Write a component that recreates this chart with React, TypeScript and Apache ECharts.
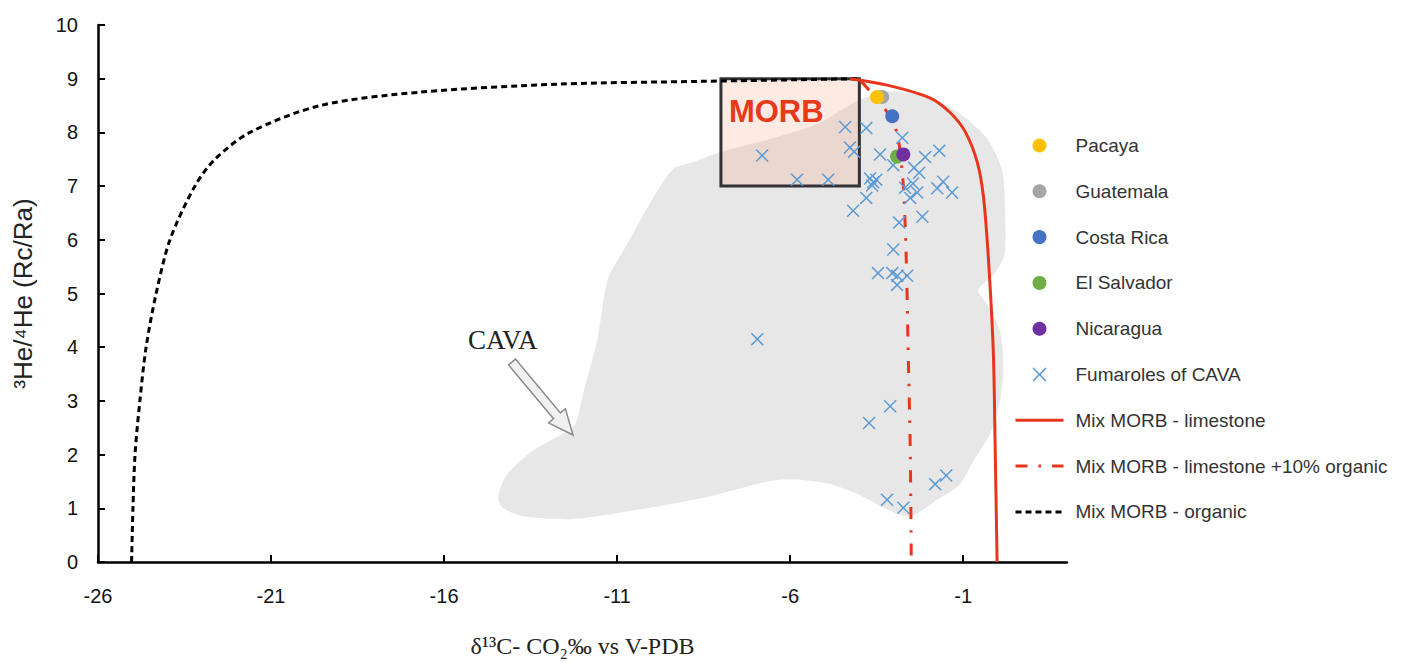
import React, { useEffect, useRef } from 'react';
import * as echarts from 'echarts';

// ---- data (x: δ13C ‰, y: 3He/4He Rc/Ra) ----
const pacaya = [[-3.49, 8.66]];
const guatemala = [[-3.34, 8.66]];
const costaRica = [[-3.05, 8.3]];
const elSalvador = [[-2.91, 7.55]];
const nicaragua = [[-2.73, 7.59]];

const fumaroles = [
  [-6.81, 7.57], [-5.8, 7.12], [-4.9, 7.12], [-4.41, 8.1], [-3.8, 8.08],
  [-4.27, 7.72], [-4.15, 7.64], [-2.76, 7.9], [-3.4, 7.59], [-2.1, 7.54],
  [-1.69, 7.66], [-3.02, 7.39], [-2.42, 7.34], [-2.27, 7.25], [-3.69, 7.14],
  [-3.6, 7.07], [-3.51, 7.12], [-3.63, 7.01], [-3.8, 6.78], [-4.18, 6.54],
  [-2.68, 6.97], [-2.45, 7.05], [-2.33, 6.88], [-1.58, 7.08], [-1.75, 6.96],
  [-1.32, 6.88], [-2.53, 6.78], [-2.18, 6.43], [-2.85, 6.32], [-3.02, 5.82],
  [-3.46, 5.38], [-3.05, 5.38], [-2.62, 5.33], [-2.9, 5.33], [-2.91, 5.16],
  [-6.95, 4.15], [-3.11, 2.9], [-3.72, 2.59], [-3.2, 1.16], [-2.73, 1.01],
  [-1.81, 1.45], [-1.49, 1.61],
];

const mixLimestone = [
  [-4.27, 9.0], [-3.2, 8.88], [-1.95, 8.64], [-1.38, 8.37], [-0.94, 8.01],
  [-0.6, 7.46], [-0.42, 6.83], [-0.28, 5.74], [-0.13, 3.93], [-0.08, 2.3], [-0.02, 0],
];

const mixLimestoneOrganic = [
  [-3.95, 8.95], [-3.02, 8.19], [-2.76, 7.25], [-2.65, 5.74], [-2.59, 3.93],
  [-2.53, 2.12], [-2.5, 0],
];

const mixOrganic = [
  [-25.03, 0], [-24.99, 1], [-24.93, 2], [-24.79, 3], [-24.61, 4], [-24.32, 5],
  [-23.92, 6], [-23.2, 7], [-22.62, 7.5], [-21.61, 8], [-19.58, 8.5],
  [-16.69, 8.75], [-12.65, 8.9], [-8.6, 8.95], [-4.0, 9.0],
];

const cavaOutline = [
  [-14.44, 1.21], [-14.18, 1.63], [-13.43, 2.07], [-12.65, 2.36], [-12.21, 2.57],
  [-11.98, 3.15], [-11.58, 4.11], [-11.4, 4.84], [-11.26, 5.29], [-10.71, 5.92],
  [-9.96, 6.78], [-9.38, 7.32], [-8.8, 7.45], [-7.99, 7.64], [-6.66, 7.86],
  [-5.22, 8.15], [-4.55, 8.41], [-3.98, 8.61], [-3.11, 8.77], [-1.95, 8.64],
  [-1.03, 8.32], [-0.28, 7.86], [0.13, 7.28], [0.21, 6.56], [0.19, 5.71],
  [-0.13, 5.34], [-0.57, 5.07], [-0.31, 4.8], [0.07, 4.29], [0.16, 3.62],
  [0.07, 3.03], [-0.22, 2.39], [-0.65, 1.94], [-1.09, 1.45], [-1.75, 1.16],
  [-2.53, 0.85], [-3.2, 0.98], [-4.06, 1.27], [-4.84, 1.45], [-5.51, 1.52],
  [-6.49, 1.52], [-8.4, 1.21], [-10.34, 0.98], [-12.27, 0.8], [-13.72, 0.85],
  [-14.29, 1.0],
];

const morbBox = [[-8, 9, -4, 7]];

const xMin = -26;
const xMax = 2;
const xInterval = 5;
const yMin = 0;
const yMax = 10;
const yInterval = 1;

const pointNames = ['Pacaya', 'Guatemala', 'Costa Rica', 'El Salvador', 'Nicaragua', 'Fumaroles of CAVA'];
const lineNames = ['Mix MORB - limestone', 'Mix MORB - limestone +10% organic', 'Mix MORB - organic'];

const RED = '#E8361C';
const X_PATH =
  'path://M0,8L8,0L50,42L92,0L100,8L58,50L100,92L92,100L50,58L8,100L0,92L42,50Z';

export default function App() {
  const ref = useRef<HTMLDivElement>(null);

  useEffect(() => {
    if (!ref.current) return;
    const chart = echarts.init(ref.current, undefined, { renderer: 'svg' });

    // arrow polygon (annotation), pixel coordinates
    const T = [512, 362];
    const tip = [573, 435];
    const dx = tip[0] - T[0];
    const dy = tip[1] - T[1];
    const len = Math.sqrt(dx * dx + dy * dy);
    const u = [dx / len, dy / len];
    const n = [-u[1], u[0]];
    const w = 4.5;
    const W = 11;
    const hl = 25;
    const H = [tip[0] - u[0] * hl, tip[1] - u[1] * hl];
    const arrowPts = [
      [T[0] + n[0] * w, T[1] + n[1] * w],
      [H[0] + n[0] * w, H[1] + n[1] * w],
      [H[0] + n[0] * W, H[1] + n[1] * W],
      tip,
      [H[0] - n[0] * W, H[1] - n[1] * W],
      [H[0] - n[0] * w, H[1] - n[1] * w],
      [T[0] - n[0] * w, T[1] - n[1] * w],
    ];

    const dot = (name: string, data: number[][], color: string, z: number) => ({
      name,
      type: 'scatter',
      data,
      symbol: 'circle',
      symbolSize: 14,
      itemStyle: { color, opacity: 1 },
      z,
    });

    chart.setOption({
      animation: false,
      backgroundColor: '#fff',
      grid: { left: 98, right: 339, top: 25, bottom: 86 },
      xAxis: {
        type: 'value',
        min: xMin,
        max: xMax,
        interval: xInterval,
        name: 'δ¹³C- CO₂‰ vs V-PDB',
        nameLocation: 'middle',
        nameGap: 72,
        nameTextStyle: {
          fontFamily: "'Liberation Serif', 'Times New Roman', serif",
          fontSize: 24,
          color: '#222',
        },
        axisLine: { onZero: false, lineStyle: { color: '#000', width: 2.5 } },
        axisTick: { inside: true, length: 7, lineStyle: { color: '#000', width: 2 } },
        axisLabel: {
          fontFamily: "'Liberation Sans Narrow', 'Liberation Sans', Arial, sans-serif",
          fontSize: 20,
          color: '#111',
          margin: 24,
          showMaxLabel: false,
        },
        splitLine: { show: false },
      },
      yAxis: {
        type: 'value',
        min: yMin,
        max: yMax,
        interval: yInterval,
        name: '³He/⁴He (Rc/Ra)',
        nameLocation: 'middle',
        nameGap: 62,
        nameTextStyle: {
          fontFamily: "'Liberation Sans', Arial, sans-serif",
          fontSize: 26,
          color: '#222',
        },
        axisLine: { onZero: false, lineStyle: { color: '#000', width: 2.5 } },
        axisTick: { inside: true, length: 7, lineStyle: { color: '#000', width: 2 } },
        axisLabel: {
          fontFamily: "'Liberation Sans', Arial, sans-serif",
          fontSize: 20,
          color: '#111',
          margin: 20,
        },
        splitLine: { show: false },
      },
      legend: {
        orient: 'vertical',
        left: 1009,
        top: 131,
        itemWidth: 48,
        itemHeight: 14,
        itemGap: 26.8,
        lineStyle: { width: 3 },
        data: [
          ...pointNames.map((name) => ({ name })),
          ...lineNames.map((name) => ({ name, itemStyle: { opacity: 0 } })),
        ],
        textStyle: {
          fontFamily: "'Liberation Sans', Arial, sans-serif",
          fontSize: 19,
          color: '#333',
          padding: [0, 0, 0, 7],
        },
        selectedMode: false,
      },
      graphic: [
        {
          type: 'polygon',
          shape: { points: arrowPts },
          style: { fill: '#f1f1f1', stroke: '#8a8a8a', lineWidth: 1.5 },
          z: 5,
        },
        {
          type: 'text',
          left: 468,
          top: 326,
          style: {
            text: 'CAVA',
            font: "27px 'Liberation Serif', 'Times New Roman', serif",
            fill: '#222',
          },
          z: 5,
        },
      ],
      series: [
        {
          name: 'CAVA',
          type: 'custom',
          data: [[-10, 5]],
          z: 0,
          silent: true,
          renderItem: (_p: any, api: any) => ({
            type: 'polygon',
            shape: {
              points: cavaOutline.map((pt) => api.coord(pt)),
              smooth: 0.25,
            },
            style: { fill: '#e8e7e7', stroke: 'none' },
          }),
        },
        {
          name: 'MORB box',
          type: 'custom',
          data: morbBox,
          z: 1,
          silent: true,
          renderItem: (_p: any, api: any) => {
            const p1 = api.coord([api.value(0), api.value(1)]);
            const p2 = api.coord([api.value(2), api.value(3)]);
            return {
              type: 'group',
              children: [
                {
                  type: 'rect',
                  shape: { x: p1[0], y: p1[1], width: p2[0] - p1[0], height: p2[1] - p1[1] },
                  style: { fill: 'rgba(240,160,128,0.22)', stroke: '#333', lineWidth: 3 },
                },
                {
                  type: 'text',
                  x: p1[0] + 8,
                  y: p1[1] + 17,
                  style: {
                    text: 'MORB',
                    font: "bold 31px 'Liberation Sans', Arial, sans-serif",
                    fill: '#E63A1B',
                  },
                },
              ],
            };
          },
        },
        {
          name: 'Mix MORB - organic',
          type: 'line',
          data: mixOrganic,
          symbol: 'none',
          smooth: 0.3,
          lineStyle: { color: '#000', width: 3, type: [6, 4] },
          itemStyle: { color: '#000' },
          z: 2,
        },
        {
          name: 'Mix MORB - limestone',
          type: 'line',
          data: mixLimestone,
          symbol: 'none',
          smooth: 0.3,
          lineStyle: { color: RED, width: 3 },
          itemStyle: { color: RED },
          z: 2,
        },
        {
          name: 'Mix MORB - limestone +10% organic',
          type: 'line',
          data: mixLimestoneOrganic,
          symbol: 'none',
          smooth: 0.3,
          lineStyle: { color: RED, width: 3, type: [12, 11, 2.5, 11] },
          itemStyle: { color: RED },
          z: 2,
        },
        {
          name: 'Fumaroles of CAVA',
          type: 'scatter',
          data: fumaroles,
          symbol: X_PATH,
          symbolSize: 13,
          itemStyle: { color: '#5B9BD5', opacity: 1 },
          z: 3,
        },
        dot('Guatemala', guatemala, '#A5A5A5', 4),
        dot('Pacaya', pacaya, '#FFC000', 4),
        dot('Costa Rica', costaRica, '#4472C4', 4),
        dot('El Salvador', elSalvador, '#70AD47', 4),
        dot('Nicaragua', nicaragua, '#7030A0', 4),
      ],
    });

    return () => chart.dispose();
  }, []);

  return (
    <div
      ref={ref}
      style={{ position: 'absolute', left: 0, top: 0, width: 1406, height: 663 }}
    />
  );
}
